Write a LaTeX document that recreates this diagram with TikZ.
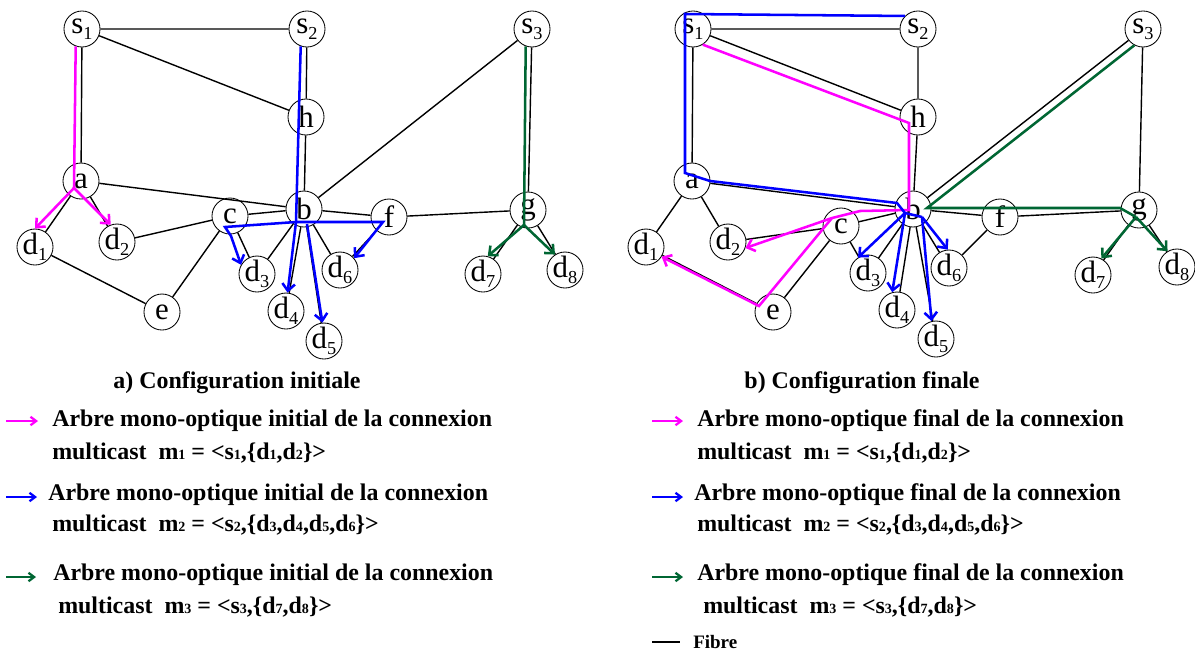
\documentclass[tikz,border=0pt]{standalone}
\usepackage{fontspec}
\setmainfont{Liberation Serif}
\usetikzlibrary{arrows.meta}
\definecolor{mpink}{RGB}{255,0,255}
\definecolor{mblue}{RGB}{0,0,255}
\definecolor{mgreen}{RGB}{0,102,51}
\newcommand{\nsub}[1]{\raisebox{-0.45ex}{\fontsize{13}{13}\selectfont #1}}
\newcommand{\subnum}[1]{{\fontsize{10}{10}\selectfont #1}}

\begin{document}
\begin{tikzpicture}[x=0.025cm, y=-0.025cm,
    noeud/.style={draw, circle, line width=0.6pt, minimum size=0.9cm, inner sep=-1pt, font=\fontsize{22}{22}\selectfont},
    fibre/.style={line width=1pt},
    arbre/.style={line width=1.8pt},
    fleche/.style={-{Straight Barb[length=5pt,width=9pt]}},
    cle/.style={line width=1.6pt, -{Straight Barb[length=4pt,width=6pt]}},
    texte/.style={anchor=west, inner sep=0pt, font=\fontsize{17}{20}\selectfont\bfseries},
    titre/.style={inner sep=0pt, font=\fontsize{17}{20}\selectfont\bfseries}]
    \useasboundingbox (0,0) rectangle (1195,652);

    % First graph
    \node[noeud] (ini-s1) at (82,29) {s\nsub{1}};
    \node[noeud] (ini-s2) at (307,29) {s\nsub{2}};
    \node[noeud] (ini-s3) at (532,29) {s\nsub{3}};
    \node[noeud] (ini-h) at (306,117) {h};
    \node[noeud] (ini-a) at (81,181) {a};
    \node[noeud] (ini-b) at (304,209) {b};
    \node[noeud] (ini-c) at (230,216) {c};
    \node[noeud] (ini-f) at (389,217) {f};
    \node[noeud] (ini-g) at (528,210) {g};
    \node[noeud] (ini-e) at (162,312) {e};
    \node[noeud] (ini-d1) at (35,247) {d\nsub{1}};
    \node[noeud] (ini-d2) at (117,242) {d\nsub{2}};
    \node[noeud] (ini-d3) at (257,274) {d\nsub{3}};
    \node[noeud] (ini-d4) at (286,311) {d\nsub{4}};
    \node[noeud] (ini-d5) at (324,341) {d\nsub{5}};
    \node[noeud] (ini-d6) at (340,270) {d\nsub{6}};
    \node[noeud] (ini-d7) at (483,274) {d\nsub{7}};
    \node[noeud] (ini-d8) at (565,270) {d\nsub{8}};

    \draw[fibre] (ini-s1) -- (ini-s2) (ini-s1) -- (ini-h) (ini-s1) -- (ini-a)
        (ini-s2) -- (ini-h) (ini-h) -- (ini-b) (ini-a) -- (ini-b)
        (ini-s3) -- (ini-b) (ini-s3) -- (ini-g) (ini-a) -- (ini-d1)
        (ini-a) -- (ini-d2) (ini-d1) -- (ini-e) (ini-d2) -- (ini-c)
        (ini-c) -- (ini-e) (ini-c) -- (ini-b) (ini-c) -- (ini-d3)
        (ini-b) -- (ini-d3) (ini-b) -- (ini-d4) (ini-b) -- (ini-d5)
        (ini-b) -- (ini-d6) (ini-b) -- (ini-f) (ini-f) -- (ini-d6)
        (ini-f) -- (ini-g) (ini-g) -- (ini-d7) (ini-g) -- (ini-d8);

    % m1 initial
    \coordinate (ini-m1) at (74,188);
    \draw[arbre, mpink] (ini-s1.250) -- (ini-m1);
    \draw[arbre, fleche, mpink] (ini-m1) -- (ini-d1.north);
    \draw[arbre, fleche, mpink] (ini-m1) -- (ini-d2.110);

    % m2 initial
    \coordinate (ini-m2) at (296,222);
    \coordinate (ini-m2r) at (307,224);
    \coordinate (ini-m2c) at (225,227);
    \coordinate (ini-m2k) at (231,236);
    \coordinate (ini-m2f) at (383,222);
    \draw[arbre, mblue] (ini-s2.250) -- (ini-m2);
    \draw[arbre, fleche, mblue] (ini-m2) -- (ini-m2c) -- (ini-m2k) -- (ini-d3.150);
    \draw[arbre, fleche, mblue] (ini-m2) -- (ini-m2f) -- (ini-d6.40);
    \draw[arbre, fleche, mblue] (ini-m2) -- (ini-d4.85);
    \draw[arbre, fleche, mblue] (ini-m2r) -- (ini-d5.95);

    % m3 initial
    \coordinate (ini-m3) at (524,225);
    \draw[arbre, mgreen] (ini-s3.250) -- (ini-m3);
    \draw[arbre, fleche, mgreen] (ini-m3) -- (ini-d7.75);
    \draw[arbre, fleche, mgreen] (ini-m3) -- (ini-d8.123);

    % Second graph
    \node[noeud] (fin-s1) at (693,29) {s\nsub{1}};
    \node[noeud] (fin-s2) at (918,29) {s\nsub{2}};
    \node[noeud] (fin-s3) at (1143,29) {s\nsub{3}};
    \node[noeud] (fin-h) at (918,117) {h};
    \node[noeud] (fin-a) at (692,181) {a};
    \node[noeud] (fin-b) at (913,209) {b};
    \node[noeud] (fin-c) at (841,226) {c};
    \node[noeud] (fin-f) at (1000,217) {f};
    \node[noeud] (fin-g) at (1139,210) {g};
    \node[noeud] (fin-e) at (773,312) {e};
    \node[noeud] (fin-d1) at (646,247) {d\nsub{1}};
    \node[noeud] (fin-d2) at (728,242) {d\nsub{2}};
    \node[noeud] (fin-d3) at (868,273) {d\nsub{3}};
    \node[noeud] (fin-d4) at (897,310) {d\nsub{4}};
    \node[noeud] (fin-d5) at (936,339) {d\nsub{5}};
    \node[noeud] (fin-d6) at (949,268) {d\nsub{6}};
    \node[noeud] (fin-d7) at (1093,275) {d\nsub{7}};
    \node[noeud] (fin-d8) at (1177,267) {d\nsub{8}};

    \draw[fibre] (fin-s1) -- (fin-s2) (fin-s1) -- (fin-h) (fin-s1) -- (fin-a)
        (fin-s2) -- (fin-h) (fin-h) -- (fin-b) (fin-a) -- (fin-b)
        (fin-s3) -- (fin-b) (fin-s3) -- (fin-g) (fin-a) -- (fin-d1)
        (fin-a) -- (fin-d2) (fin-d1) -- (fin-e) (fin-d2) -- (fin-c)
        (fin-c) -- (fin-e) (fin-c) -- (fin-b) (fin-c) -- (fin-d3)
        (fin-b) -- (fin-d3) (fin-b) -- (fin-d4) (fin-b) -- (fin-d5)
        (fin-b) -- (fin-d6) (fin-b) -- (fin-f) (fin-f) -- (fin-d6)
        (fin-f) -- (fin-g) (fin-g) -- (fin-d7) (fin-g) -- (fin-d8);

    % m1 final
    \coordinate (fin-m1h) at (909,123);
    \coordinate (fin-m1b) at (909,210);
    \coordinate (fin-m1k) at (860,211);
    \coordinate (fin-m1c) at (832,218);
    \coordinate (fin-m1e) at (759,306);
    \draw[arbre, mpink] (fin-s1.-58) -- (fin-m1h) -- (fin-m1b) -- (fin-m1k) -- (fin-m1c);
    \draw[arbre, fleche, mpink] (fin-m1c) -- (fin-d2.-19);
    \draw[arbre, fleche, mpink] (fin-m1c) -- (fin-m1e) -- (fin-d1.-32);

    % m2 final
    \coordinate (fin-m2t) at (685,14);
    \coordinate (fin-m2a) at (685,173);
    \coordinate (fin-m2k) at (710,181);
    \coordinate (fin-m2b) at (897,203);
    \coordinate (fin-m2) at (905,213);
    \coordinate (fin-m2r) at (922,217);
    \draw[arbre, mblue] (fin-s2.135) -- (fin-m2t) -- (fin-m2a) -- (fin-m2k) -- (fin-m2b) -- (fin-m2) -- (fin-m2r);
    \draw[arbre, fleche, mblue] (fin-m2) -- (fin-d3.123);
    \draw[arbre, fleche, mblue] (fin-m2) -- (fin-d4.105);
    \draw[arbre, fleche, mblue] (fin-m2r) -- (fin-d5.104);
    \draw[arbre, fleche, mblue] (fin-m2r) -- (fin-d6.94);

    % m3 final
    \coordinate (fin-m3b) at (927,208);
    \coordinate (fin-m3k) at (1120,208);
    \coordinate (fin-m3) at (1136,217);
    \draw[arbre, mgreen] (fin-s3.242) -- (fin-m3b) -- (fin-m3k) -- (fin-m3);
    \draw[arbre, fleche, mgreen] (fin-m3) -- (fin-d7.63);
    \draw[arbre, fleche, mgreen] (fin-m3) -- (fin-d8.121);

    % Legend, initial
    \node[titre] (ini-titre) at (237,383) {a) Configuration initiale};
    \coordinate (ini-k1a) at (6,421);
    \coordinate (ini-k1b) at (38,421);
    \coordinate (ini-k2a) at (6,497);
    \coordinate (ini-k2b) at (37,497);
    \coordinate (ini-k3a) at (6,577);
    \coordinate (ini-k3b) at (36,577);
    \draw[cle, mpink] (ini-k1a) -- (ini-k1b);
    \draw[cle, mblue] (ini-k2a) -- (ini-k2b);
    \draw[cle, mgreen] (ini-k3a) -- (ini-k3b);
    \node[texte] (ini-t1) at (52,421) {Arbre mono-optique initial de la connexion};
    \node[texte] (ini-t1b) at (52,453) {multicast\ \ m\subnum{1} = <s\subnum{1},\{d\subnum{1},d\subnum{2}\}>};
    \node[texte] (ini-t2) at (48,495) {Arbre mono-optique initial de la connexion};
    \node[texte] (ini-t2b) at (52,525) {multicast\ \ m\subnum{2} = <s\subnum{2},\{d\subnum{3},d\subnum{4},d\subnum{5},d\subnum{6}\}>};
    \node[texte] (ini-t3) at (53,575) {Arbre mono-optique initial de la connexion};
    \node[texte] (ini-t3b) at (58,607) {multicast\ \ m\subnum{3} = <s\subnum{3},\{d\subnum{7},d\subnum{8}\}>};

    % Legend, final
    \node[titre] (fin-titre) at (862,383) {b) Configuration finale};
    \coordinate (fin-k1a) at (652,421);
    \coordinate (fin-k1b) at (683,421);
    \coordinate (fin-k2a) at (652,497);
    \coordinate (fin-k2b) at (683,497);
    \coordinate (fin-k3a) at (652,577);
    \coordinate (fin-k3b) at (683,577);
    \coordinate (fin-k4a) at (652,642);
    \coordinate (fin-k4b) at (680,642);
    \draw[cle, mpink] (fin-k1a) -- (fin-k1b);
    \draw[cle, mblue] (fin-k2a) -- (fin-k2b);
    \draw[cle, mgreen] (fin-k3a) -- (fin-k3b);
    \draw[line width=1.4pt] (fin-k4a) -- (fin-k4b);
    \node[texte] (fin-t1) at (697,421) {Arbre mono-optique final de la connexion};
    \node[texte] (fin-t1b) at (697,453) {multicast\ \ m\subnum{1} = <s\subnum{1},\{d\subnum{1},d\subnum{2}\}>};
    \node[texte] (fin-t2) at (694,495) {Arbre mono-optique final de la connexion};
    \node[texte] (fin-t2b) at (697,525) {multicast\ \ m\subnum{2} = <s\subnum{2},\{d\subnum{3},d\subnum{4},d\subnum{5},d\subnum{6}\}>};
    \node[texte] (fin-t3) at (697,575) {Arbre mono-optique final de la connexion};
    \node[texte] (fin-t3b) at (703,607) {multicast\ \ m\subnum{3} = <s\subnum{3},\{d\subnum{7},d\subnum{8}\}>};
    \node[texte, font=\fontsize{13.5}{16}\selectfont\bfseries] (fin-t4) at (693,642) {Fibre};

\end{tikzpicture}
\end{document}
